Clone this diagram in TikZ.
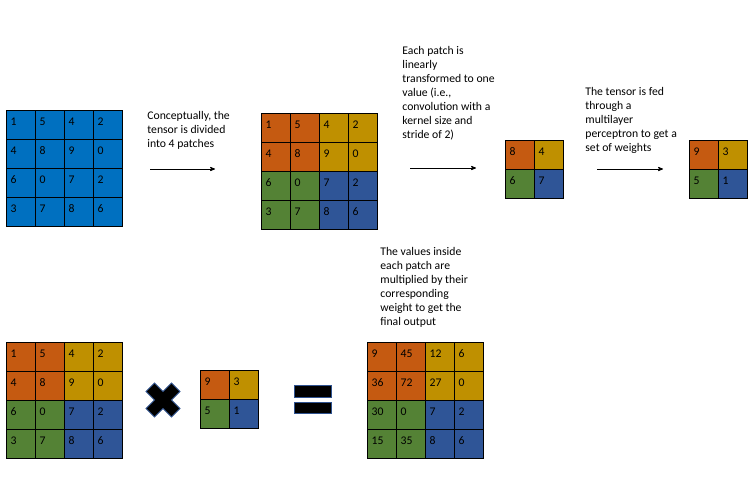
\documentclass[tikz,border=0pt]{standalone}
\usepackage{fontspec}
\setmainfont{Carlito}
\usetikzlibrary{arrows}
\definecolor{tblue}{HTML}{0070C0}
\definecolor{q0}{HTML}{C55A11}
\definecolor{q1}{HTML}{BF9000}
\definecolor{q2}{HTML}{548235}
\definecolor{q3}{HTML}{2F5597}
\definecolor{symedge}{HTML}{2F528F}

\begin{document}
\begin{tikzpicture}[x=1pt,y=-1pt,>=stealth',thick,
    cell/.style={draw,line width=1.2pt,anchor=north west,minimum size=29pt,
      inner xsep=4pt,inner ysep=0pt,text width=21pt,align=left,
      text height=8pt,text depth=7pt,font=\fontsize{11.7}{14}\selectfont},
    note/.style={anchor=north west,inner sep=0pt,align=left,
      font=\fontsize{11.7}{14}\selectfont},
    sym/.style={fill=black,draw=symedge,line width=0.8pt}]
  \useasboundingbox (0,0) rectangle (754,500);

  % input tensor
  \foreach \v [count=\k from 0] in {1,5,4,2,4,8,9,0,6,0,7,2,3,7,8,6} {
    \pgfmathtruncatemacro\row{div(\k,4)}
    \pgfmathtruncatemacro\col{mod(\k,4)}
    \node[cell,fill=tblue] (in-\row-\col) at (6+29*\col,110+29*\row) {\v};
  }
  % divided into patches
  \foreach \v [count=\k from 0] in {1,5,4,2,4,8,9,0,6,0,7,2,3,7,8,6} {
    \pgfmathtruncatemacro\row{div(\k,4)}
    \pgfmathtruncatemacro\col{mod(\k,4)}
    \pgfmathtruncatemacro\q{2*div(\row,2)+div(\col,2)}
    \node[cell,fill=q\q] (patch-\row-\col) at (261+29*\col,113+29*\row) {\v};
  }
  % one value per patch
  \foreach \v [count=\k from 0] in {8,4,6,7} {
    \pgfmathtruncatemacro\row{div(\k,2)}
    \pgfmathtruncatemacro\col{mod(\k,2)}
    \node[cell,fill=q\k] (conv-\row-\col) at (505+29*\col,140+29*\row) {\v};
  }
  % weights
  \foreach \v [count=\k from 0] in {9,3,5,1} {
    \pgfmathtruncatemacro\row{div(\k,2)}
    \pgfmathtruncatemacro\col{mod(\k,2)}
    \node[cell,fill=q\k] (w-\row-\col) at (689+29*\col,140+29*\row) {\v};
  }
  % bottom row
  \foreach \v [count=\k from 0] in {1,5,4,2,4,8,9,0,6,0,7,2,3,7,8,6} {
    \pgfmathtruncatemacro\row{div(\k,4)}
    \pgfmathtruncatemacro\col{mod(\k,4)}
    \pgfmathtruncatemacro\q{2*div(\row,2)+div(\col,2)}
    \node[cell,fill=q\q] (lhs-\row-\col) at (6+29*\col,342+29*\row) {\v};
  }
  \foreach \v [count=\k from 0] in {9,3,5,1} {
    \pgfmathtruncatemacro\row{div(\k,2)}
    \pgfmathtruncatemacro\col{mod(\k,2)}
    \node[cell,fill=q\k] (wb-\row-\col) at (200+29*\col,370+29*\row) {\v};
  }
  \foreach \v [count=\k from 0] in {9,45,12,6,36,72,27,0,30,0,7,2,15,35,8,6} {
    \pgfmathtruncatemacro\row{div(\k,4)}
    \pgfmathtruncatemacro\col{mod(\k,4)}
    \pgfmathtruncatemacro\q{2*div(\row,2)+div(\col,2)}
    \node[cell,fill=q\q] (out-\row-\col) at (367+29*\col,342+29*\row) {\v};
  }

  % notes
  \node[note] (n1) at (147,111) {Conceptually, the\\tensor is divided\\into 4 patches};
  \node[note] (n2) at (402,46) {Each patch is\\linearly\\transformed to one\\value (i.e.,\\convolution with a\\kernel size and\\stride of 2)};
  \node[note] (n3) at (585,87) {The tensor is fed\\through a\\multilayer\\perceptron to get a\\set of weights};
  \node[note] (n4) at (380,247) {The values inside\\each patch are\\multiplied by their\\corresponding\\weight to get the\\final output};

  % arrows
  \coordinate (s1) at (150,169);
  \coordinate (e1) at (215,169);
  \coordinate (s2) at (410,168);
  \coordinate (e2) at (476,168);
  \coordinate (s3) at (597,169);
  \coordinate (e3) at (663,169);
  \draw[->] (s1) -- (e1);
  \draw[->] (s2) -- (e2);
  \draw[->] (s3) -- (e3);

  % times and equals
  \draw[sym,shift={(163,400)},rotate=45] (6,18) -- (6,6) -- (18,6) -- (18,-6)
    -- (6,-6) -- (6,-18) -- (-6,-18) -- (-6,-6) -- (-18,-6) -- (-18,6)
    -- (-6,6) -- (-6,18) -- cycle;
  \draw[sym] (294,385) rectangle (331,397);
  \draw[sym] (294,402) rectangle (331,413);
\end{tikzpicture}
\end{document}
